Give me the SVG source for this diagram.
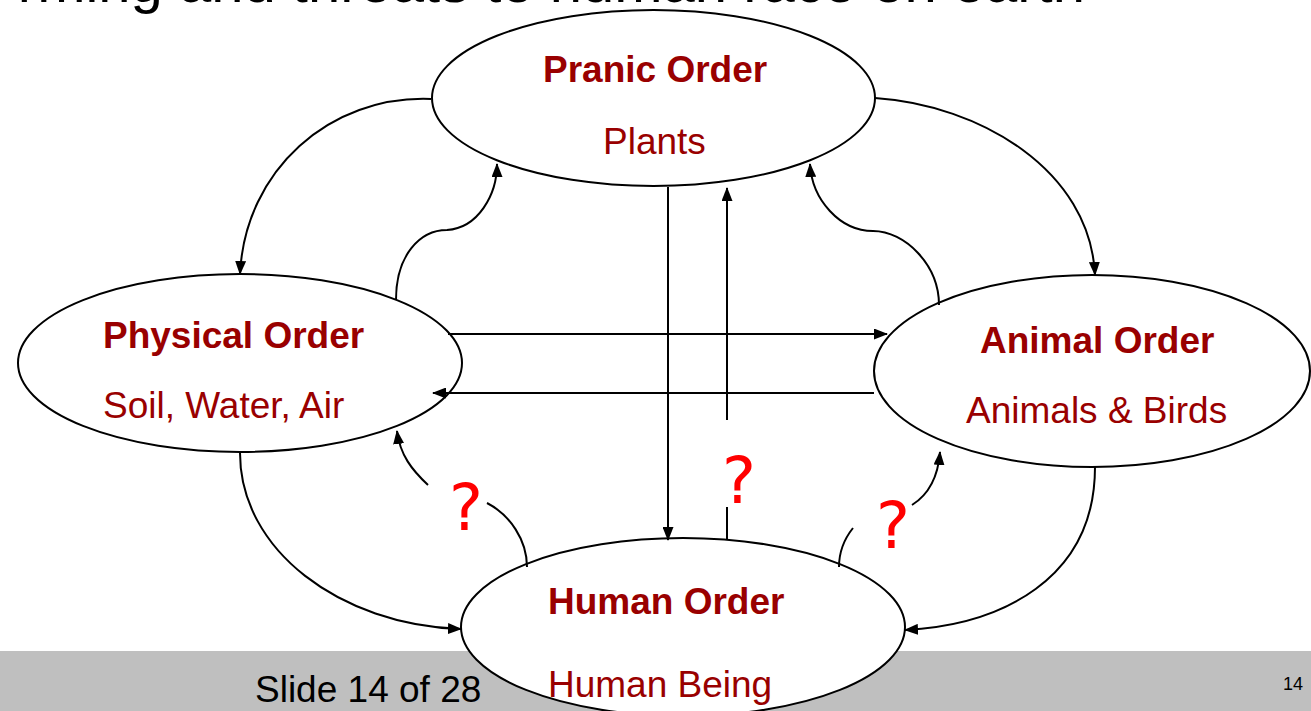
<svg xmlns="http://www.w3.org/2000/svg" width="1311" height="711" viewBox="0 0 1311 711">
<style>
.n ellipse{fill:#fff;stroke:#000;stroke-width:2}
.t{font-family:"Liberation Sans",Arial,sans-serif;font-size:37px;fill:#990000}
.b{font-weight:bold}
.c path,.c line{fill:none;stroke:#000;stroke-width:2}
.q{font-family:"DejaVu Sans",Verdana,sans-serif;font-size:64px;fill:#ff0000;text-anchor:middle}
</style>
<defs>
<marker id="a" viewBox="0 0 14 11" refX="13" refY="5.5" markerWidth="14" markerHeight="11" orient="auto" markerUnits="userSpaceOnUse"><path d="M0,0 L14,5.5 L0,11 z" fill="#000"/></marker>
</defs>
<rect width="1311" height="711" fill="#fff"/>
<text x="1085" y="2" text-anchor="end" font-family="Liberation Sans, Arial, sans-serif" font-size="58" fill="#000">rming and threats to human race on earth</text>
<rect x="0" y="651" width="1311" height="60" fill="#bfbfbf"/>
<text x="255" y="702" font-family="Liberation Sans, Arial, sans-serif" font-size="37" fill="#000">Slide 14 of 28</text>
<text x="1283" y="690" font-family="Liberation Sans, Arial, sans-serif" font-size="18" fill="#000">14</text>
<g id="pranic" class="n">
<ellipse cx="653.5" cy="98" rx="221.5" ry="88"/>
<text class="t b" x="543" y="82">Pranic Order</text>
<text class="t" x="603" y="154">Plants</text>
</g>
<g id="physical" class="n">
<ellipse cx="240" cy="363" rx="222" ry="89"/>
<text class="t b" x="103" y="348">Physical Order</text>
<text class="t" x="103" y="418">Soil, Water, Air</text>
</g>
<g id="animal" class="n">
<ellipse cx="1092" cy="371" rx="218" ry="96"/>
<text class="t b" x="980" y="353">Animal Order</text>
<text class="t" x="966" y="423">Animals &amp; Birds</text>
</g>
<g id="human" class="n">
<ellipse cx="683" cy="627" rx="222" ry="89"/>
<text class="t b" x="548" y="614">Human Order</text>
<text class="t" x="548" y="697">Human Being</text>
</g>
<g id="connectors" class="c">
<path d="M431,99 C 330,95 245,170 240,274" marker-end="url(#a)"/>
<path d="M875,98 C 980,105 1090,170 1095,275" marker-end="url(#a)"/>
<path d="M240,453 C 240,550 340,625 461,629" marker-end="url(#a)"/>
<path d="M1095,467 C 1095,580 1000,625 905,630" marker-end="url(#a)"/>
<path d="M396,300 C 396,255 420,230 447,230 C 478,228 497,195 497,164" marker-end="url(#a)"/>
<path d="M939,305 C 939,265 905,231 873,231 C 840,231 812,200 810,164" marker-end="url(#a)"/>
<line x1="448" y1="334" x2="887" y2="334" marker-end="url(#a)"/>
<line x1="874" y1="393" x2="433" y2="393" marker-end="url(#a)"/>
<line x1="668" y1="187" x2="668" y2="540" marker-end="url(#a)"/>
<line x1="727" y1="539" x2="727" y2="507"/>
<line x1="727" y1="420" x2="727" y2="188" marker-end="url(#a)"/>
<path d="M527,567 C 527,540 510,515 487,503"/>
<path d="M428,485 C 412,470 400,455 397,431" marker-end="url(#a)"/>
<path d="M839,567 C 839,550 845,538 853,528"/>
<path d="M912,505 C 928,495 938,478 940,452" marker-end="url(#a)"/>
</g>
<text class="q" x="739" y="503">?</text>
<text class="q" x="466" y="530">?</text>
<text class="q" x="893" y="548">?</text>
</svg>
